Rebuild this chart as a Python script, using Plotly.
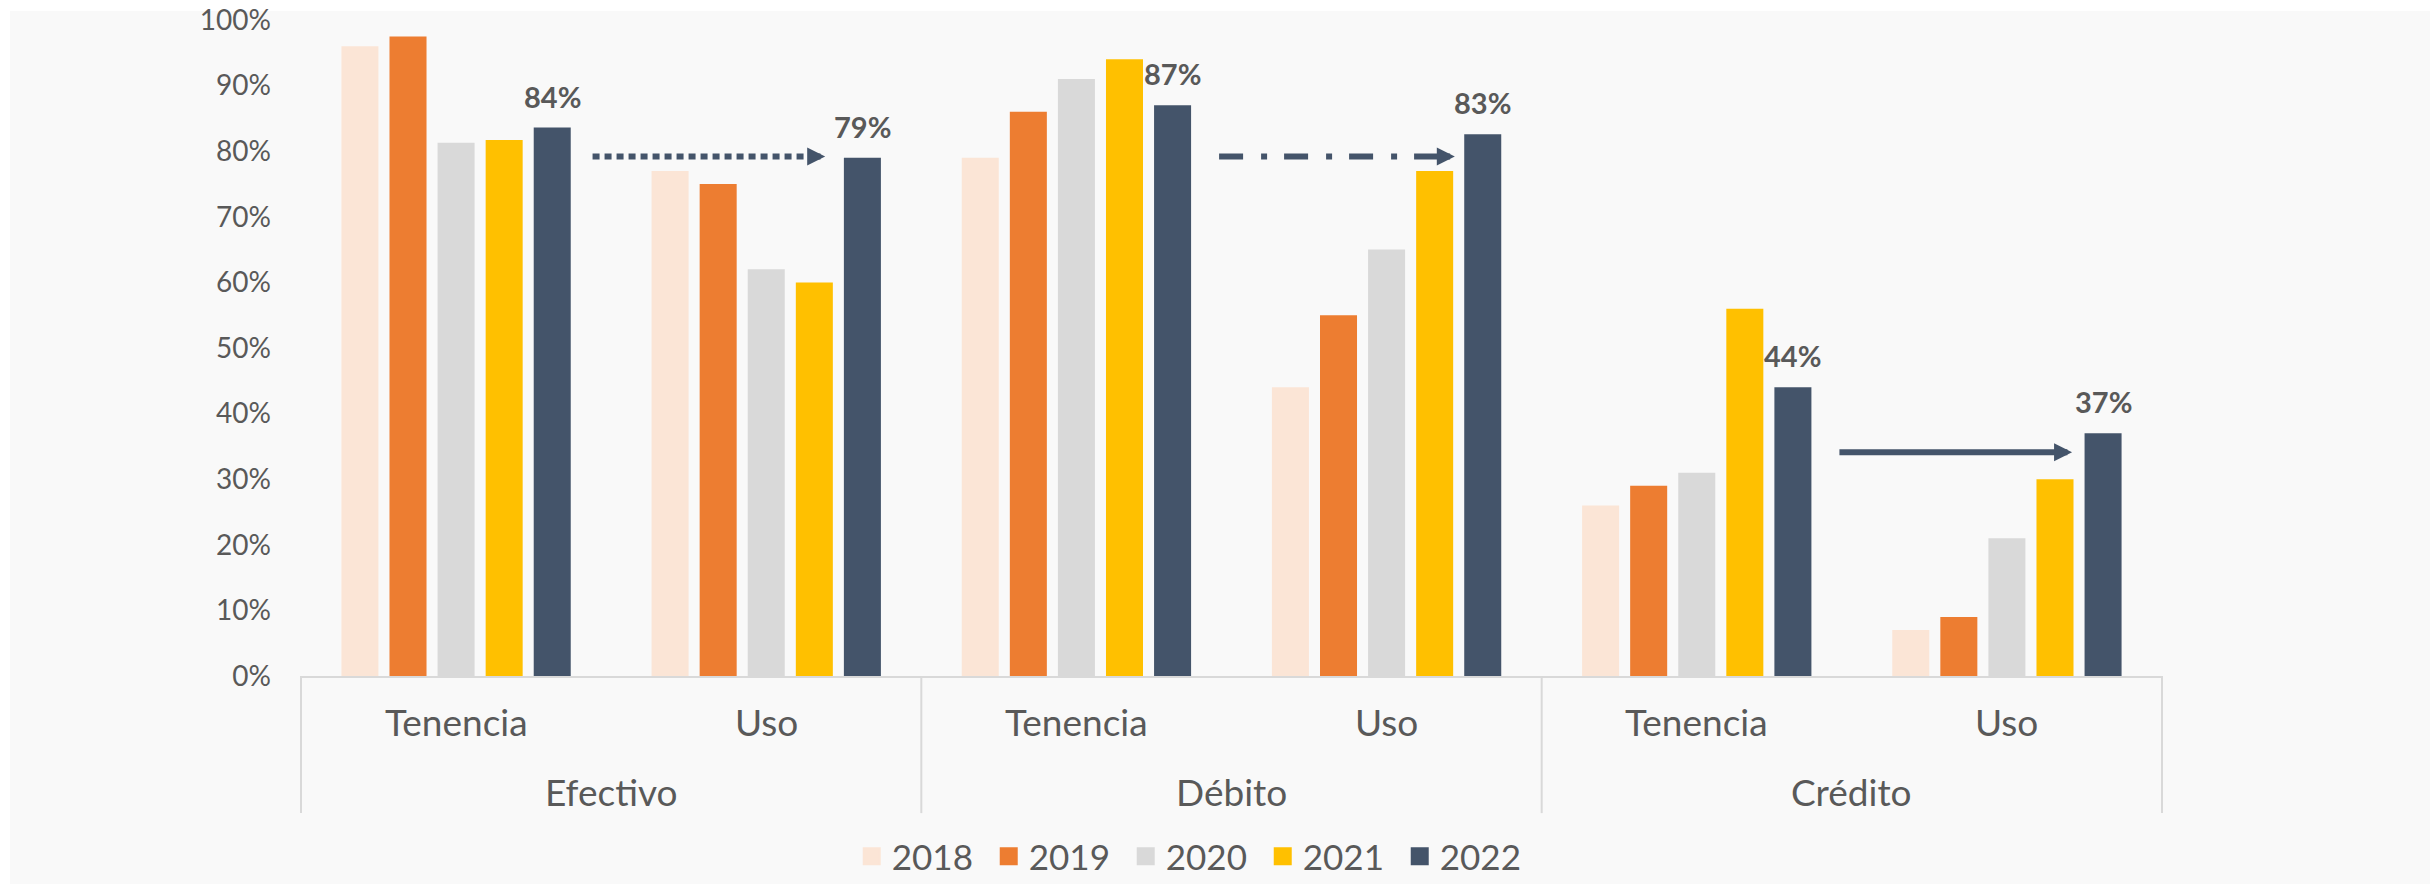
import plotly.graph_objects as go

# ---- data ----
groups = ["Efectivo", "Débito", "Crédito"]
subgroups = ["Tenencia", "Uso"]
years = ["2018", "2019", "2020", "2021", "2022"]
colors = ["#FBE5D6", "#ED7D31", "#D9D9D9", "#FFC000", "#44546A"]

v2018 = [96, 77, 79, 44, 26, 7]
v2019 = [97.5, 75, 86, 55, 29, 9]
v2020 = [81.3, 62, 91, 65, 31, 21]
v2021 = [81.7, 60, 94, 77, 56, 30]
v2022 = [83.6, 79, 87, 82.6, 44, 37]
series = [v2018, v2019, v2020, v2021, v2022]

y_ticks = [0, 10, 20, 30, 40, 50, 60, 70, 80, 90, 100]
y_ticktext = [f"{v}%" for v in y_ticks]

# arrows (Tenencia -> Uso) per group
arrow_start = [0.44, 2.46, 4.46]
arrow_end = [1.19, 3.22, 5.21]
arrow_y = [79.2, 79.2, 34.1]
arrow_dash = ["7px,5px", "24px,18px,6px,17px", "solid"]

TEXT = "#595959"
FONT = "Lato"
BARGAP = 0.225
AXIS_GRAY = "#D9D9D9"

outer = [g for g in groups for _ in subgroups]
inner = [s for _ in groups for s in subgroups]
n_sub = len(subgroups)

fig = go.Figure()
for yr, col, vals in zip(years, colors, series):
    fig.add_trace(go.Bar(
        x=[outer, inner], y=vals, name=yr, marker_color=col,
        marker_line_width=0, showlegend=False, hoverinfo="skip"))
# legend swatches
for yr, col in zip(years, colors):
    fig.add_trace(go.Scatter(
        x=[[groups[0]], [subgroups[0]]], y=[None], name=yr, mode="markers",
        marker=dict(symbol="square", size=16, color=col,
                    line=dict(width=2, color=col)),
        showlegend=True, hoverinfo="skip"))

# value labels on 2022 bars
slot = (1 - BARGAP) / len(years)
off22 = slot * (len(years) - 1) / 2
for i, v in enumerate(v2022):
    fig.add_annotation(x=i + off22, y=v, xref="x", yref="y",
                       text=f"{round(v)}%", showarrow=False,
                       yanchor="bottom", yshift=12,
                       font=dict(family=FONT, size=29, color=TEXT, weight="bold"))

# hierarchical category labels and dividers
for i, s in enumerate(inner):
    fig.add_annotation(x=i, y=-0.0694, xref="x", yref="paper", text=s,
                       showarrow=False, yanchor="middle",
                       font=dict(family=FONT, size=37, color=TEXT))
for g, name in enumerate(groups):
    fig.add_annotation(x=g * n_sub + (n_sub - 1) / 2, y=-0.176, xref="x",
                       yref="paper", text=name, showarrow=False,
                       yanchor="middle",
                       font=dict(family=FONT, size=37, color=TEXT))
for g in range(len(groups) + 1):
    xd = g * n_sub - 0.5
    fig.add_shape(type="line", xref="x", yref="paper", x0=xd, x1=xd,
                  y0=0, y1=-0.209, line=dict(color=AXIS_GRAY, width=2))

# arrows
for xs, xe, ya, dash in zip(arrow_start, arrow_end, arrow_y, arrow_dash):
    fig.add_shape(type="line", xref="x", yref="y", x0=xs, x1=xe - 0.03,
                  y0=ya, y1=ya, line=dict(color="#44546A", width=6, dash=dash))
    fig.add_annotation(x=xe, y=ya, xref="x", yref="y", text="",
                       showarrow=True, ax=-16, ay=0, arrowhead=2,
                       arrowsize=0.6, arrowwidth=6, arrowcolor="#44546A",
                       standoff=0)

# background panel
fig.add_shape(type="rect", xref="paper", yref="paper",
              x0=-0.1557, x1=1.2, y0=-0.4, y1=1.0137,
              fillcolor="#F9F9F9", line_width=0, layer="below")

fig.update_layout(
    width=2430, height=884,
    margin=dict(l=300, r=267, t=20, b=208, autoexpand=False),
    paper_bgcolor="white", plot_bgcolor="rgba(0,0,0,0)",
    barmode="group", bargap=BARGAP, bargroupgap=0.23,
    font=dict(family=FONT, color=TEXT),
    legend=dict(orientation="h", x=0.48, xanchor="center", y=-0.275,
                yanchor="middle", font=dict(size=35, color=TEXT),
                entrywidth=92, entrywidthmode="pixels",
                bgcolor="rgba(0,0,0,0)"),
)
fig.update_yaxes(range=[0, 100], tickmode="array", tickvals=y_ticks,
                 ticktext=y_ticktext, automargin=False,
                 ticklabeloverflow="allow",
                 showgrid=False, zeroline=False, showline=False,
                 tickfont=dict(size=28, color=TEXT), ticklabelstandoff=28)
fig.update_xaxes(type="multicategory", showline=True, linecolor=AXIS_GRAY,
                 linewidth=2, showgrid=False, showdividers=False,
                 showticklabels=False, automargin=False)

fig.write_html("out.html",
               config={"displayModeBar": False},
               post_script="document.body.style.margin='0px';"
                           "document.body.style.overflow='hidden';")
